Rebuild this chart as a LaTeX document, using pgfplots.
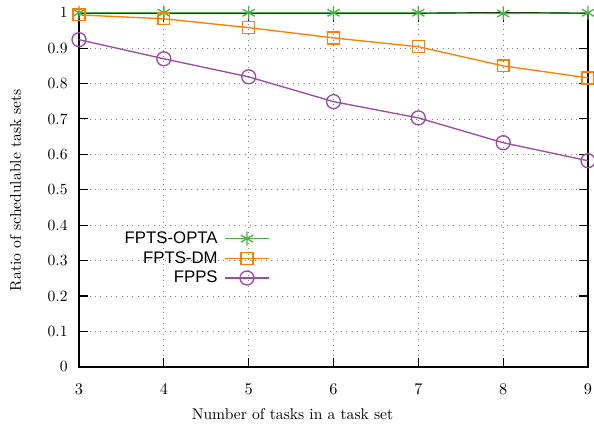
\documentclass[border=0pt]{standalone}
\usepackage{pgfplots}
\pgfplotsset{compat=1.18}
\usepackage{fontspec}
\newfontfamily\keyfont{Liberation Sans}
\definecolor{cgreen}{RGB}{77,175,74}
\definecolor{corange}{RGB}{255,127,0}
\definecolor{cpurple}{RGB}{152,78,163}
\begin{document}
\fontsize{10.5}{12}\selectfont
\begin{tikzpicture}
\path[use as bounding box] (0,0) rectangle (400pt,291pt);
\begin{axis}[
  at={(53.2pt,44pt)}, anchor=south west,
  scale only axis, width=342.8pt, height=238.4pt,
  xmin=3, xmax=9, ymin=0, ymax=1,
  xtick={3,4,5,6,7,8,9},
  ytick={0,0.1,0.2,0.3,0.4,0.5,0.6,0.7,0.8,0.9,1},
  yticklabels={0,0.1,0.2,0.3,0.4,0.5,0.6,0.7,0.8,0.9,1},
  tick align=inside, tick pos=both,
  major tick length=6pt,
  tick style={black, line width=0.7pt},
  axis line style={black, line width=1.2pt},
  grid=major,
  major grid style={gray, line width=0.6pt, dash pattern=on 0.6pt off 3pt},
  xticklabel style={yshift=-8pt},
  yticklabel style={xshift=-4pt},
  legend cell align=right,
  legend plot pos=right,
  legend style={at={(axis cs:5.25,0.389)}, anchor=north east, draw=none, fill=none,
    inner sep=0pt, font=\keyfont\fontsize{11.3}{13}\selectfont,
    row sep=0.8pt, column sep=3pt,
    nodes={inner sep=1.5pt}},
  legend image code/.code={\draw[mark repeat=2, mark phase=2] plot coordinates {(0cm,0cm) (0.52cm,0cm) (1.04cm,0cm)};},
  clip=false,
]
\addplot[cgreen, line width=0.9pt, mark=asterisk, mark size=4.7pt, mark options={line width=0.9pt}]
  coordinates {(3,1.0) (4,1.0) (5,1.0) (6,1.0) (7,1.0) (8,0.998) (9,1.0)};
\addlegendentry{FPTS-OPTA}
\addplot[corange, line width=0.9pt, mark=square, mark size=4pt, mark options={line width=0.9pt}]
  coordinates {(3,0.994) (4,0.983) (5,0.958) (6,0.929) (7,0.904) (8,0.850) (9,0.816)};
\addlegendentry{FPTS-DM}
\addplot[cpurple, line width=0.9pt, mark=o, mark size=4.7pt, mark options={line width=0.9pt}]
  coordinates {(3,0.924) (4,0.870) (5,0.819) (6,0.749) (7,0.703) (8,0.633) (9,0.582)};
\addlegendentry{FPPS}
\end{axis}
\node[rotate=90] at (10.5pt,163pt) {Ratio of schedulable task sets};
\node at (197pt,12pt) {Number of tasks in a task set};
\end{tikzpicture}
\end{document}
